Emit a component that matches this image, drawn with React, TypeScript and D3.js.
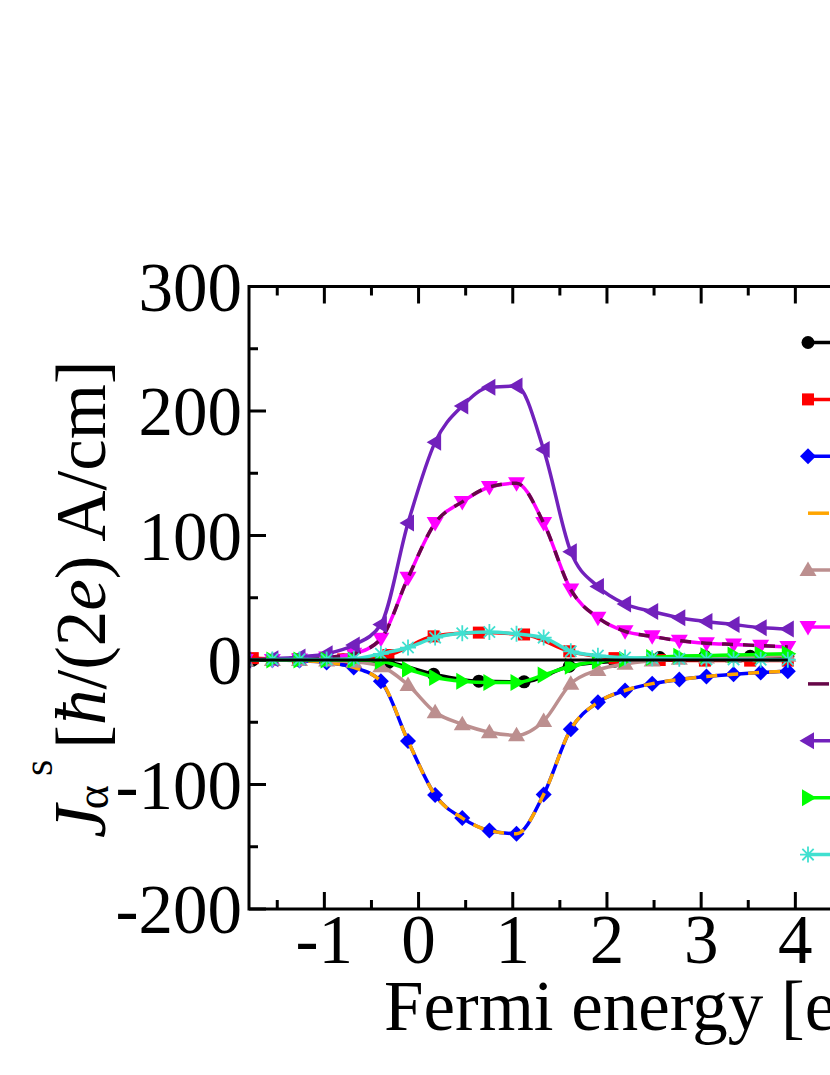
import React from 'react';
import * as d3 from 'd3';

// Fermi energy grids [eV]
const energiesA = [-1.84, -1.552, -1.264, -0.976, -0.688, -0.4, -0.112, 0.176, 0.464, 0.752, 1.04, 1.328, 1.616, 1.904, 2.192, 2.48, 2.768, 3.056, 3.344, 3.632, 3.92];
const energiesB = [-1.76, -1.28, -0.8, -0.32, 0.16, 0.64, 1.12, 1.6, 2.08, 2.56, 3.04, 3.52, 3.92];

// spin current values [hbar/(2e) A/cm]
const blackJ = [0, 0, 0, -2, -11.5, -17, -17.5, -5, -1, 2, 3, 3, 3];
const redJ = [1.5, 0.5, 0.5, 4, 19, 22, 20.5, 7, 1.5, 0, -0.5, -0.5, -0.5];
const blueJ = [0, 0, -0.5, -2, -6, -17, -65, -108.5, -127, -137, -139.5, -108, -55.6, -34, -24.5, -19, -15.7, -13.3, -11.5, -10, -9];
const orangeJ = [0, 0, -0.5, -2, -6, -17, -65, -108.5, -127, -137, -139.5, -108, -55.6, -34, -24.5, -19, -15.7, -13.3, -11.5, -10, -9];
const brownJ = [0, 0, 0, -0.5, -1.5, -5, -20, -42, -51.6, -58, -60.5, -49, -19, -8, -3, -0.5, 1, 2, 2.5, 3, 3.5];
const magentaJ = [0, 0, 0.5, 2, 5, 17, 66, 110, 127, 139, 142, 110, 56.6, 34, 23, 19, 15.5, 13.5, 12.5, 11.5, 10.5];
const maroonJ = [0, 0, 0.5, 2, 5, 17, 66, 110, 127, 139, 142, 110, 56.6, 34, 23, 19, 15.5, 13.5, 12.5, 11.5, 10.5];
const indigoJ = [0, 1, 2.5, 5, 12, 28.5, 110, 175, 204, 219, 220, 169, 87, 59, 45, 39, 34, 31, 28.5, 26, 25];
const greenJ = [0, 0, 0, 0, 0, -1, -7.5, -14, -17, -18, -18, -12, -5, -1, 0.5, 2, 3, 3.5, 4, 4.5, 5];
const turquoiseJ = [0, 0.5, 0.5, 0.5, 1, 5, 10, 18, 21.5, 22.5, 21, 18, 7, 3.5, 2, 1.5, 1, 0.5, 0.5, 0.3, 0.3];

// axis ticks
const xMajor = [-1, 0, 1, 2, 3, 4, 5];
const xMinor = [-1.5, -0.5, 0.5, 1.5, 2.5, 3.5, 4.5];
const yMajor = [-200, -100, 0, 100, 200, 300];
const yMinor = [-150, -50, 50, 150, 250];

type MarkerType = 'circle' | 'square' | 'diamond' | 'none' | 'up' | 'down' | 'left' | 'right' | 'star';

const series: { xs: number[]; ys: number[]; color: string; marker: MarkerType; dash?: string }[] = [
  { xs: energiesB, ys: blackJ, color: '#000000', marker: 'circle' },
  { xs: energiesB, ys: redJ, color: '#FF0000', marker: 'square' },
  { xs: energiesA, ys: blueJ, color: '#0000FF', marker: 'diamond' },
  { xs: energiesA, ys: orangeJ, color: '#FFA500', marker: 'none', dash: '11,10' },
  { xs: energiesA, ys: brownJ, color: '#BC8F8F', marker: 'up' },
  { xs: energiesA, ys: magentaJ, color: '#FF00FF', marker: 'down' },
  { xs: energiesA, ys: maroonJ, color: '#670748', marker: 'none', dash: '11,10' },
  { xs: energiesA, ys: indigoJ, color: '#7221BC', marker: 'left' },
  { xs: energiesA, ys: greenJ, color: '#00FF00', marker: 'right' },
  { xs: energiesA, ys: turquoiseJ, color: '#40E0D0', marker: 'star' },
];

const FONT = '"Liberation Serif", "Times New Roman", serif';

function Marker({ type, x, y, color }: { type: MarkerType; x: number; y: number; color: string }) {
  const s = 8.5;
  const b = 6;
  switch (type) {
    case 'circle':
      return <circle cx={x} cy={y} r={6.5} fill={color} />;
    case 'square':
      return <rect x={x - 6} y={y - 6} width={12} height={12} fill={color} />;
    case 'diamond':
      return <path d={`M${x},${y - 8}L${x + 8},${y}L${x},${y + 8}L${x - 8},${y}Z`} fill={color} />;
    case 'up':
      return <path d={`M${x},${y - s}L${x + s},${y + b}L${x - s},${y + b}Z`} fill={color} />;
    case 'down':
      return <path d={`M${x},${y + s}L${x + s},${y - b}L${x - s},${y - b}Z`} fill={color} />;
    case 'left':
      return <path d={`M${x - s},${y}L${x + b},${y - s}L${x + b},${y + s}Z`} fill={color} />;
    case 'right':
      return <path d={`M${x + s},${y}L${x - b},${y - s}L${x - b},${y + s}Z`} fill={color} />;
    case 'star': {
      const r = 8;
      const d = r * Math.SQRT1_2;
      return (
        <path
          d={`M${x - r},${y}L${x + r},${y}M${x},${y - r}L${x},${y + r}M${x - d},${y - d}L${x + d},${y + d}M${x - d},${y + d}L${x + d},${y - d}`}
          stroke={color}
          strokeWidth={1.8}
          fill="none"
        />
      );
    }
    default:
      return null;
  }
}

export default function App() {
  const W = 830;
  const H = 1075;
  const left = 249;
  const top = 286.5;
  const bottom = 909;
  const x = d3.scaleLinear().domain([-1.8, 5]).range([left, left + 6.8 * 94.2]);
  const y = d3.scaleLinear().domain([-200, 300]).range([bottom, top]);
  const right = x(5);

  const line = d3
    .line<[number, number]>()
    .x((d) => x(d[0]))
    .y((d) => y(d[1]))
    .curve(d3.curveMonotoneX);

  const zeroPts: [number, number][] = [
    [energiesA[0], 0],
    [energiesA[energiesA.length - 1], 0],
  ];

  const legendX = 808;
  const legendY0 = 342.5;
  const legendDY = 56.9;

  return (
    <svg width={W} height={H} style={{ position: 'absolute', left: 0, top: 0, background: '#fff' }}>
      <rect x={0} y={0} width={W} height={H} fill="#fff" />
      <defs>
        <clipPath id="plotclip">
          <rect x={left} y={top} width={right - left} height={bottom - top} />
        </clipPath>
      </defs>

      {/* data */}
      <g clipPath="url(#plotclip)">
        {series.map((s, i) => {
          const pts: [number, number][] = s.xs.map((e, k) => [e, s.ys[k]]);
          return (
            <g key={i}>
              <path d={line(pts) || ''} fill="none" stroke={s.color} strokeWidth={3.5} strokeDasharray={s.dash} />
              {s.marker !== 'none' &&
                pts.map((p, k) => <Marker key={k} type={s.marker} x={x(p[0])} y={y(p[1])} color={s.color} />)}
            </g>
          );
        })}
        <path d={line(zeroPts) || ''} stroke="#000" strokeWidth={3} fill="none" />
      </g>

      {/* frame */}
      <g stroke="#000" strokeWidth={3} fill="none">
        <path d={`M${right},${top}L${left},${top}L${left},${bottom}L${right},${bottom}`} />
        {xMajor.map((t) => (
          <g key={'xM' + t}>
            <line x1={x(t)} x2={x(t)} y1={bottom} y2={bottom - 17} />
            <line x1={x(t)} x2={x(t)} y1={top} y2={top + 17} />
          </g>
        ))}
        {xMinor.map((t) => (
          <g key={'xm' + t}>
            <line x1={x(t)} x2={x(t)} y1={bottom} y2={bottom - 9} />
            <line x1={x(t)} x2={x(t)} y1={top} y2={top + 9} />
          </g>
        ))}
        {yMajor.map((t) => (
          <line key={'yM' + t} x1={left} x2={left + 17} y1={y(t)} y2={y(t)} />
        ))}
        {yMinor.map((t) => (
          <line key={'ym' + t} x1={left} x2={left + 9} y1={y(t)} y2={y(t)} />
        ))}
      </g>

      {/* tick labels */}
      <g fontFamily={FONT} fontSize={69} fill="#000">
        {xMajor.map((t) => (
          <text key={'xl' + t} x={x(t)} y={963} textAnchor="middle">
            {String(t)}
          </text>
        ))}
        {yMajor.map((t) => (
          <text key={'yl' + t} x={242} y={y(t) + 24} textAnchor="end">
            {String(t)}
          </text>
        ))}
      </g>

      {/* axis titles */}
      <text x={384} y={1030} fontFamily={FONT} fontSize={71} fill="#000">
        Fermi energy [eV]
      </text>
      <text transform="translate(105,838) rotate(-90)" fontFamily={FONT} fontSize={71} fill="#000">
        <tspan fontStyle="italic" fontSize={74}>J</tspan>
        <tspan fontSize={46} dx={-4} dy={3}>α</tspan>
        <tspan fontSize={42} dx={9} dy={-56}>s</tspan>
        <tspan fontSize={71} dx={11} dy={53}>[</tspan>
        <tspan fontStyle="italic">ħ</tspan>
        <tspan>/(2</tspan>
        <tspan fontStyle="italic">e</tspan>
        <tspan>) A/cm]</tspan>
      </text>

      {/* legend (labels lie outside the visible area) */}
      {series.map((s, i) => {
        const ly = legendY0 + legendDY * i;
        return (
          <g key={'lg' + i}>
            {s.marker === 'none' ? (
              <line x1={legendX} x2={legendX + 21} y1={ly} y2={ly} stroke={s.color} strokeWidth={3.5} />
            ) : (
              <line x1={legendX} x2={legendX + 40} y1={ly} y2={ly} stroke={s.color} strokeWidth={3.5} />
            )}
            <Marker type={s.marker} x={legendX} y={ly} color={s.color} />
          </g>
        );
      })}
    </svg>
  );
}
